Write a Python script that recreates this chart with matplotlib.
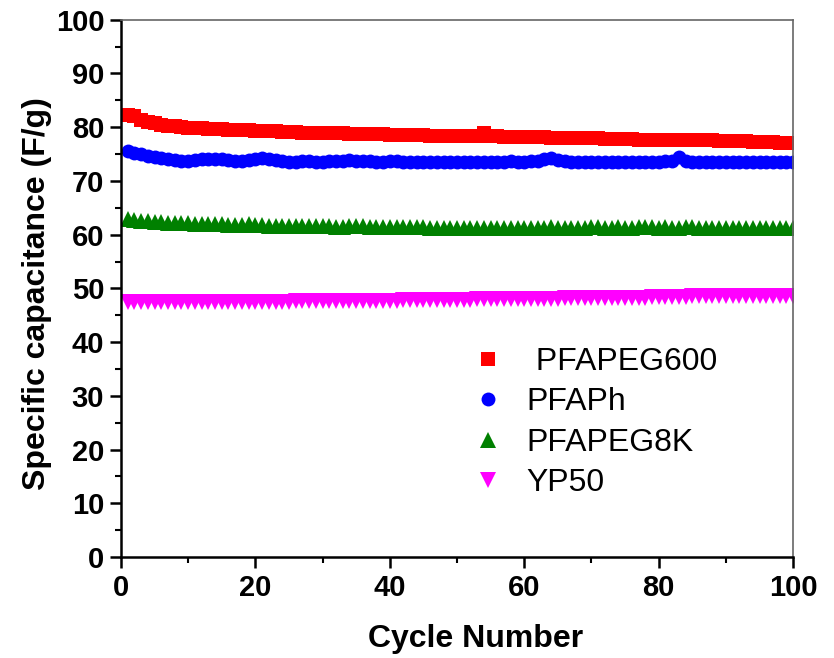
import numpy as np
import matplotlib.pyplot as plt

plt.rcParams['font.family'] = ['Liberation Sans', 'DejaVu Sans']

# ciclos 1..100
cycles = np.arange(1, 101)

pfapeg600 = [82.2, 82.0, 81.4, 81.0, 80.7, 80.5, 80.3, 80.2, 80.0, 79.9,
             79.8, 79.8, 79.7, 79.6, 79.6, 79.5, 79.5, 79.4, 79.4, 79.3,
             79.3, 79.2, 79.2, 79.1, 79.1, 79.1, 79.0, 79.0, 79.0, 78.9,
             78.9, 78.9, 78.9, 78.8, 78.8, 78.8, 78.7, 78.7, 78.7, 78.6,
             78.6, 78.6, 78.5, 78.5, 78.5, 78.4, 78.4, 78.4, 78.3, 78.3,
             78.3, 78.3, 78.3, 78.9, 78.4, 78.3, 78.2, 78.2, 78.2, 78.1,
             78.1, 78.1, 78.1, 78.0, 78.0, 78.0, 78.0, 77.9, 77.9, 77.9,
             77.9, 77.8, 77.8, 77.8, 77.8, 77.8, 77.7, 77.7, 77.7, 77.7,
             77.7, 77.7, 77.7, 77.7, 77.6, 77.6, 77.6, 77.6, 77.5, 77.5,
             77.5, 77.4, 77.4, 77.3, 77.3, 77.2, 77.2, 77.1, 77.1, 77.0]

pfaph = [75.5, 75.2, 75.0, 74.7, 74.5, 74.3, 74.1, 73.9, 73.8, 73.8,
         73.9, 74.0, 74.0, 74.1, 74.0, 73.9, 73.8, 73.8, 73.9, 74.0,
         74.2, 74.1, 73.9, 73.7, 73.6, 73.6, 73.7, 73.7, 73.6, 73.6,
         73.7, 73.8, 73.8, 73.9, 73.8, 73.7, 73.7, 73.6, 73.6, 73.7,
         73.7, 73.6, 73.6, 73.6, 73.5, 73.5, 73.6, 73.6, 73.5, 73.5,
         73.6, 73.6, 73.5, 73.5, 73.6, 73.6, 73.6, 73.7, 73.6, 73.6,
         73.7, 73.8, 74.0, 74.3, 73.9, 73.7, 73.6, 73.6, 73.5, 73.5,
         73.5, 73.5, 73.5, 73.5, 73.6, 73.6, 73.5, 73.5, 73.6, 73.6,
         73.7, 73.8, 74.5, 73.8, 73.6, 73.6, 73.6, 73.6, 73.6, 73.6,
         73.6, 73.6, 73.6, 73.6, 73.6, 73.6, 73.6, 73.6, 73.6, 73.6]

pfapeg8k = [63.0, 62.8, 62.6, 62.5, 62.4, 62.3, 62.2, 62.2, 62.1, 62.1,
            62.0, 62.0, 61.9, 61.9, 61.9, 61.8, 61.8, 61.8, 61.9, 61.8,
            61.8, 61.7, 61.7, 61.7, 61.7, 61.7, 61.6, 61.6, 61.6, 61.6,
            61.6, 61.5, 61.5, 61.6, 61.7, 61.6, 61.5, 61.5, 61.5, 61.5,
            61.4, 61.4, 61.4, 61.4, 61.4, 61.3, 61.3, 61.3, 61.3, 61.3,
            61.3, 61.3, 61.3, 61.3, 61.3, 61.3, 61.3, 61.3, 61.3, 61.3,
            61.3, 61.3, 61.3, 61.4, 61.3, 61.3, 61.3, 61.3, 61.3, 61.4,
            61.4, 61.3, 61.3, 61.4, 61.3, 61.3, 61.4, 61.5, 61.4, 61.3,
            61.4, 61.3, 61.3, 61.5, 61.4, 61.3, 61.3, 61.2, 61.2, 61.2,
            61.2, 61.3, 61.3, 61.2, 61.2, 61.2, 61.3, 61.3, 61.2, 61.2]

yp50 = [47.5, 47.5, 47.5, 47.5, 47.5, 47.5, 47.5, 47.5, 47.5, 47.5,
        47.5, 47.5, 47.5, 47.5, 47.5, 47.5, 47.5, 47.5, 47.5, 47.5,
        47.5, 47.5, 47.5, 47.5, 47.5, 47.6, 47.6, 47.6, 47.6, 47.6,
        47.6, 47.6, 47.6, 47.6, 47.6, 47.7, 47.7, 47.7, 47.7, 47.7,
        47.7, 47.8, 47.8, 47.8, 47.8, 47.8, 47.9, 47.9, 47.9, 47.9,
        47.9, 47.9, 48.0, 48.0, 48.0, 48.0, 48.0, 48.0, 48.0, 48.1,
        48.1, 48.1, 48.1, 48.1, 48.1, 48.2, 48.2, 48.2, 48.2, 48.2,
        48.2, 48.2, 48.3, 48.3, 48.3, 48.3, 48.3, 48.3, 48.4, 48.4,
        48.4, 48.4, 48.4, 48.4, 48.5, 48.5, 48.5, 48.5, 48.5, 48.5,
        48.5, 48.5, 48.6, 48.6, 48.6, 48.6, 48.6, 48.6, 48.6, 48.6]

labels = [' PFAPEG600', 'PFAPh', 'PFAPEG8K', 'YP50']

fig = plt.figure(figsize=(8.34, 6.58), dpi=100)
ax = fig.add_axes([0.145, 0.1535, 0.806, 0.8165])

ms = 10
ax.plot(cycles, pfapeg600, 's', color='#ff0000', ms=ms - 0.5, mew=0, label=labels[0])
ax.plot(cycles, pfaph, 'o', color='#0000ff', ms=ms, mew=0, label=labels[1])
ax.plot(cycles, pfapeg8k, '^', color='#008000', ms=ms + 1, mew=0, label=labels[2])
ax.plot(cycles, yp50, 'v', color='#ff00ff', ms=ms + 1, mew=0, label=labels[3])

ax.set_xlim(0, 100)
ax.set_ylim(0, 100)
ax.set_xticks(np.arange(0, 101, 20))
ax.set_xticks(np.arange(10, 100, 20), minor=True)
ax.set_yticks(np.arange(0, 101, 10))
ax.set_yticks(np.arange(5, 100, 10), minor=True)

ax.tick_params(which='major', direction='out', length=8, width=1.8, labelsize=21, pad=4)
ax.tick_params(which='minor', direction='out', length=4, width=1.5)
for lab in ax.get_xticklabels() + ax.get_yticklabels():
    lab.set_fontweight('bold')

for side in ['left', 'bottom']:
    ax.spines[side].set_linewidth(1.8)
for side in ['top', 'right']:
    ax.spines[side].set_linewidth(1.2)
    ax.spines[side].set_color('#666666')

ax.set_xlabel('Cycle Number', fontsize=23, fontweight='bold')
ax.xaxis.set_label_coords(0.528, -0.125)
ax.set_ylabel('Specific capacitance (F/g)', fontsize=23, fontweight='bold')
ax.yaxis.set_label_coords(-0.103, 0.49)

ax.legend(loc='center left', bbox_to_anchor=(0.48, 0.25), frameon=False,
          fontsize=23, handlelength=1.0, handletextpad=0.7, labelspacing=0.33,
          markerscale=1.0)

fig.savefig('out.png', dpi=100)
